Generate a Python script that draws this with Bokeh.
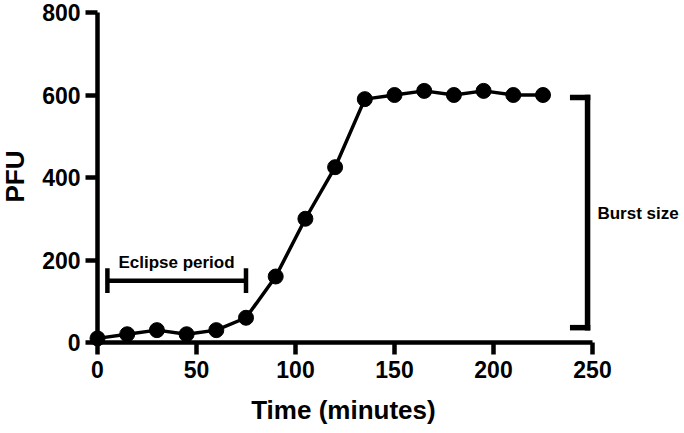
import math
from bokeh.plotting import figure
from bokeh.models import Range1d, Label, FixedTicker
from bokeh.embed import file_html
from bokeh.resources import INLINE

# data
time_min = [0, 15, 30, 45, 60, 75, 90, 105, 120, 135, 150, 165, 180, 195, 210, 225]
pfu = [10, 20, 30, 20, 30, 60, 160, 300, 425, 590, 600, 610, 600, 610, 600, 600]
x_ticks = [0, 50, 100, 150, 200, 250]
y_ticks = [0, 200, 400, 600, 800]

# annotations
eclipse_x = [5, 75]
eclipse_level = 150
eclipse_cap = 30
burst_x = 247.5
burst_y = [36, 594]
burst_tick = 7.5

FONT = "Liberation Sans"

p = figure(width=684, height=433, x_range=Range1d(-48.99, 296.46), y_range=Range1d(-220.6, 829.09),
           output_backend="svg", toolbar_location=None,
           min_border_left=0, min_border_right=0, min_border_top=0, min_border_bottom=0)
p.outline_line_color = None
p.grid.visible = False
p.background_fill_color = "white"

for ax, ticks, bnds in ((p.xaxis[0], x_ticks, (0, 250)), (p.yaxis[0], y_ticks, (0, 800))):
    ax.fixed_location = 0
    ax.bounds = bnds
    ax.ticker = FixedTicker(ticks=ticks)
    ax.axis_line_width = 4.5
    ax.axis_line_color = "black"
    ax.major_tick_line_width = 4.5
    ax.major_tick_line_color = "black"
    ax.major_tick_out = 12
    ax.major_tick_in = 0
    ax.minor_tick_line_color = None
    ax.major_label_text_font = FONT
    ax.major_label_text_font_style = "bold"
    ax.major_label_text_font_size = "23px"
    ax.major_label_text_color = "black"
p.xaxis.major_label_standoff = 6
p.yaxis.major_label_standoff = 5

# data line
p.line(time_min, pfu, line_width=3.5, line_color="black")
p.scatter(time_min, pfu, size=15, color="black")

# eclipse period bar
p.segment(x0=[eclipse_x[0], eclipse_x[0], eclipse_x[1]],
          y0=[eclipse_level, eclipse_level - eclipse_cap, eclipse_level - eclipse_cap],
          x1=[eclipse_x[1], eclipse_x[0], eclipse_x[1]],
          y1=[eclipse_level, eclipse_level + eclipse_cap, eclipse_level + eclipse_cap],
          line_width=4.5, line_color="black")

# burst size bracket
p.segment(x0=[burst_x, burst_x - burst_tick, burst_x - burst_tick],
          y0=[burst_y[0], burst_y[0], burst_y[1]],
          x1=[burst_x, burst_x, burst_x],
          y1=[burst_y[1], burst_y[0], burst_y[1]],
          line_width=5.5, line_color="black", line_cap="square")

p.add_layout(Label(x=39.9, y=194, text="Eclipse period", text_align="center", text_baseline="middle",
                   text_font=FONT, text_font_style="bold", text_font_size="17px", text_color="black"))
p.add_layout(Label(x=252.5, y=312.7, text="Burst size", text_align="left", text_baseline="middle",
                   text_font=FONT, text_font_style="bold", text_font_size="17px", text_color="black"))
p.add_layout(Label(x=124.2, y=-164.8, text="Time (minutes)", text_align="center", text_baseline="middle",
                   text_font=FONT, text_font_style="bold", text_font_size="26px", text_color="black"))
p.add_layout(Label(x=-41.9, y=402.4, text="PFU", angle=math.pi / 2, text_align="center", text_baseline="middle",
                   text_font=FONT, text_font_style="bold", text_font_size="26px", text_color="black"))

open("out.html", "w").write(file_html(p, INLINE))
